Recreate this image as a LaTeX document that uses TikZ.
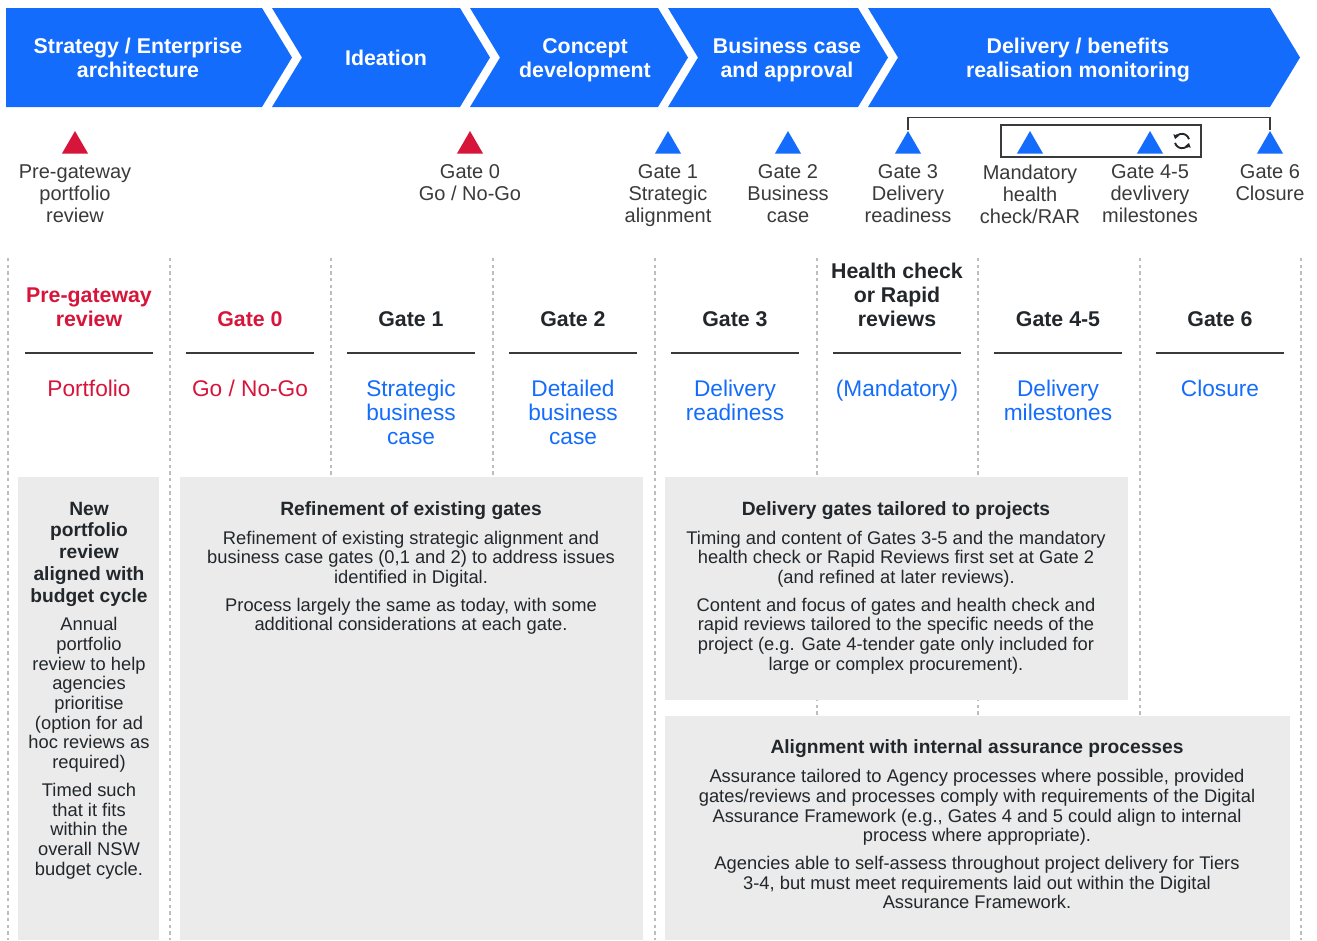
\documentclass[tikz,border=0pt]{standalone}
\usepackage{fontspec}
\setmainfont{Liberation Sans}
\usepackage{tikz}
\usetikzlibrary{positioning,shapes.geometric,arrows.meta}

\definecolor{nswblue}{HTML}{146CFD}
\definecolor{nswred}{HTML}{D7153A}
\definecolor{inkgrey}{HTML}{22272B}
\definecolor{labelgrey}{HTML}{3A3A3A}
\definecolor{panelgrey}{HTML}{EBEBEB}
\definecolor{dashgrey}{HTML}{BDBDBD}

\tikzset{
  chev/.style={fill=nswblue},
  chevtxt/.style={text=white, font=\fontsize{16}{18}\selectfont\bfseries, align=center},
  gatetri/.style={regular polygon, regular polygon sides=3, minimum size=22.5pt, inner sep=0pt, fill=#1},
  gatetxt/.style={text=labelgrey, font=\fontsize{15}{16.5}\selectfont, align=center, inner sep=0pt},
  colhead/.style={font=\fontsize{16}{18}\selectfont\bfseries, align=center, inner sep=0pt, anchor=south},
  colsub/.style={font=\fontsize{17}{18}\selectfont, align=center, inner sep=0pt, anchor=north},
  colrule/.style={draw=labelgrey, line width=1.1pt},
  coldash/.style={draw=dashgrey, line width=0.8pt, dash pattern=on 2.5pt off 2.5pt},
  bracket/.style={draw=labelgrey, line width=0.9pt},
  panel/.style={fill=panelgrey, inner sep=0pt, anchor=north west},
  paneltitle/.style={text=inkgrey, font=\fontsize{14.4}{16.3}\selectfont\bfseries, align=center, inner sep=0pt},
  paneltxt/.style={text=inkgrey, font=\fontsize{13.75}{14.8}\selectfont, align=center, inner sep=0pt, anchor=north},
  cycarrow/.style={draw=inkgrey, line width=1.4pt, -{Triangle[length=3.2pt,width=4.2pt]}},
}

\begin{document}
\begin{tikzpicture}[x=0.75pt, y=-0.75pt]
  \useasboundingbox (0,0) rectangle (1317,940);

  \fill[chev] (6,8) -- (262,8) -- (292,57.5) -- (262,107) -- (6,107) -- cycle;
  \fill[chev] (272,8) -- (460,8) -- (490,57.5) -- (460,107) -- (272,107) -- (302,57.5) -- cycle;
  \fill[chev] (470,8) -- (658,8) -- (688,57.5) -- (658,107) -- (470,107) -- (500,57.5) -- cycle;
  \fill[chev] (668,8) -- (858,8) -- (888,57.5) -- (858,107) -- (668,107) -- (698,57.5) -- cycle;
  \fill[chev] (868,8) -- (1270,8) -- (1300,57.5) -- (1270,107) -- (868,107) -- (898,57.5) -- cycle;

  \node[chevtxt] (strategy) at (138,58) {Strategy / Enterprise\\architecture};
  \node[chevtxt] (ideation) at (386,58) {Ideation};
  \node[chevtxt] (concept) at (585,60) {Concept\\development};
  \node[chevtxt] (business) at (787,60) {Business case\\and approval};
  \node[chevtxt] (delivery) at (1078,60) {Delivery / benefits\\realisation monitoring};

  \node[gatetri=nswred] (tpre) at (75,146) {};
  \node[gatetri=nswred] (t0) at (470,146) {};
  \node[gatetri=nswblue] (t1) at (668,146) {};
  \node[gatetri=nswblue] (t2) at (788,146) {};
  \node[gatetri=nswblue] (t3) at (908,146) {};
  \node[gatetri=nswblue] (thc) at (1030,146) {};
  \node[gatetri=nswblue] (t45) at (1150,146) {};
  \node[gatetri=nswblue] (t6) at (1270,146) {};

  \node[gatetxt, below=8pt of tpre] (lpre) {Pre-gateway\\portfolio\\review};
  \node[gatetxt, below=8pt of t0] (l0) {Gate 0\\Go / No-Go};
  \node[gatetxt, below=8pt of t1] (l1) {Gate 1\\Strategic\\alignment};
  \node[gatetxt, below=8pt of t2] (l2) {Gate 2\\Business\\case};
  \node[gatetxt, below=8pt of t3] (l3) {Gate 3\\Delivery\\readiness};
  \node[gatetxt, below=8pt of thc] (lhc) {Mandatory\\health\\check/RAR};
  \node[gatetxt, below=8pt of t45] (l45) {Gate 4-5\\devlivery\\milestones};
  \node[gatetxt, below=8pt of t6] (l6) {Gate 6\\Closure};

  \draw[bracket] (t3.corner 1) -- ++(0,-13) -| (t6.corner 1);
  \node[bracket, minimum width=150pt, minimum height=24pt, inner sep=0pt] (loopbox) at (1101,141) {};
  \coordinate (cyc) at (1182,141);
  \draw[cycarrow] ([shift={(15:5.4pt)}]cyc) arc[start angle=15, end angle=165, radius=5.4pt];
  \draw[cycarrow] ([shift={(195:5.4pt)}]cyc) arc[start angle=195, end angle=345, radius=5.4pt];

  \foreach \x in {8,170,331,493,655,817,978,1140,1301}
    \draw[coldash] (\x,258) -- (\x,940);

  \node[colhead, text=nswred] (hpre) at (89,327) {Pre-gateway\\review};
  \node[colhead, text=nswred] (h0) at (250,327) {Gate 0};
  \node[colhead, text=inkgrey] (h1) at (411,327) {Gate 1};
  \node[colhead, text=inkgrey] (h2) at (573,327) {Gate 2};
  \node[colhead, text=inkgrey] (h3) at (735,327) {Gate 3};
  \node[colhead, text=inkgrey] (hhc) at (897,327) {Health check\\or Rapid\\reviews};
  \node[colhead, text=inkgrey] (h45) at (1058,327) {Gate 4-5};
  \node[colhead, text=inkgrey] (h6) at (1220,327) {Gate 6};

  \foreach \cx in {89,250,411,573,735,897,1058,1220}
    \draw[colrule] (\cx-64,353) -- (\cx+64,353);

  \node[colsub, text=nswred] (spre) at (89,380) {Portfolio};
  \node[colsub, text=nswred] (s0) at (250,380) {Go / No-Go};
  \node[colsub, text=nswblue] (s1) at (411,380) {Strategic\\business\\case};
  \node[colsub, text=nswblue] (s2) at (573,380) {Detailed\\business\\case};
  \node[colsub, text=nswblue] (s3) at (735,380) {Delivery\\readiness};
  \node[colsub, text=nswblue] (shc) at (897,380) {(Mandatory)};
  \node[colsub, text=nswblue] (s45) at (1058,380) {Delivery\\milestones};
  \node[colsub, text=nswblue] (s6) at (1220,380) {Closure};

  \node[panel, minimum width=105.75pt, minimum height=347.25pt] (pA) at (18,477) {};
  \node[panel, minimum width=347.25pt, minimum height=347.25pt] (pB) at (180,477) {};
  \node[panel, minimum width=347.25pt, minimum height=167.25pt] (pC) at (665,477) {};
  \node[panel, minimum width=468.75pt, minimum height=168pt] (pD) at (665,716) {};

  \node[paneltitle] (tA) at (89,554) {New\\portfolio\\review\\aligned with\\budget cycle};
  \node[paneltxt] (bA) at (89,617) {Annual\\portfolio\\review to help\\agencies\\prioritise\\(option for ad\\hoc reviews as\\required)\\[6pt]Timed such\\that it fits\\within the\\overall NSW\\budget cycle.};

  \node[paneltitle] (tB) at (411,511) {Refinement of existing gates};
  \node[paneltxt] (bB) at (411,530.5) {Refinement of existing strategic alignment and\\business case gates (0,1 and 2) to address issues\\identified in Digital.\\[6pt]Process largely the same as today, with some\\additional considerations at each gate.};

  \node[paneltitle] (tC) at (896,511) {Delivery gates tailored to projects};
  \node[paneltxt] (bC) at (896,530.5) {Timing and content of Gates 3-5 and the mandatory\\health check or Rapid Reviews first set at Gate 2\\(and refined at later reviews).\\[6pt]Content and focus of gates and health check and\\rapid reviews tailored to the specific needs of the\\project (e.g. Gate 4-tender gate only included for\\large or complex procurement).};

  \node[paneltitle] (tD) at (977,749) {Alignment with internal assurance processes};
  \node[paneltxt] (bD) at (977,769) {Assurance tailored to Agency processes where possible, provided\\gates/reviews and processes comply with requirements of the Digital\\Assurance Framework (e.g., Gates 4 and 5 could align to internal\\process where appropriate).\\[6pt]Agencies able to self-assess throughout project delivery for Tiers\\3-4, but must meet requirements laid out within the Digital\\Assurance Framework.};
\end{tikzpicture}
\end{document}
